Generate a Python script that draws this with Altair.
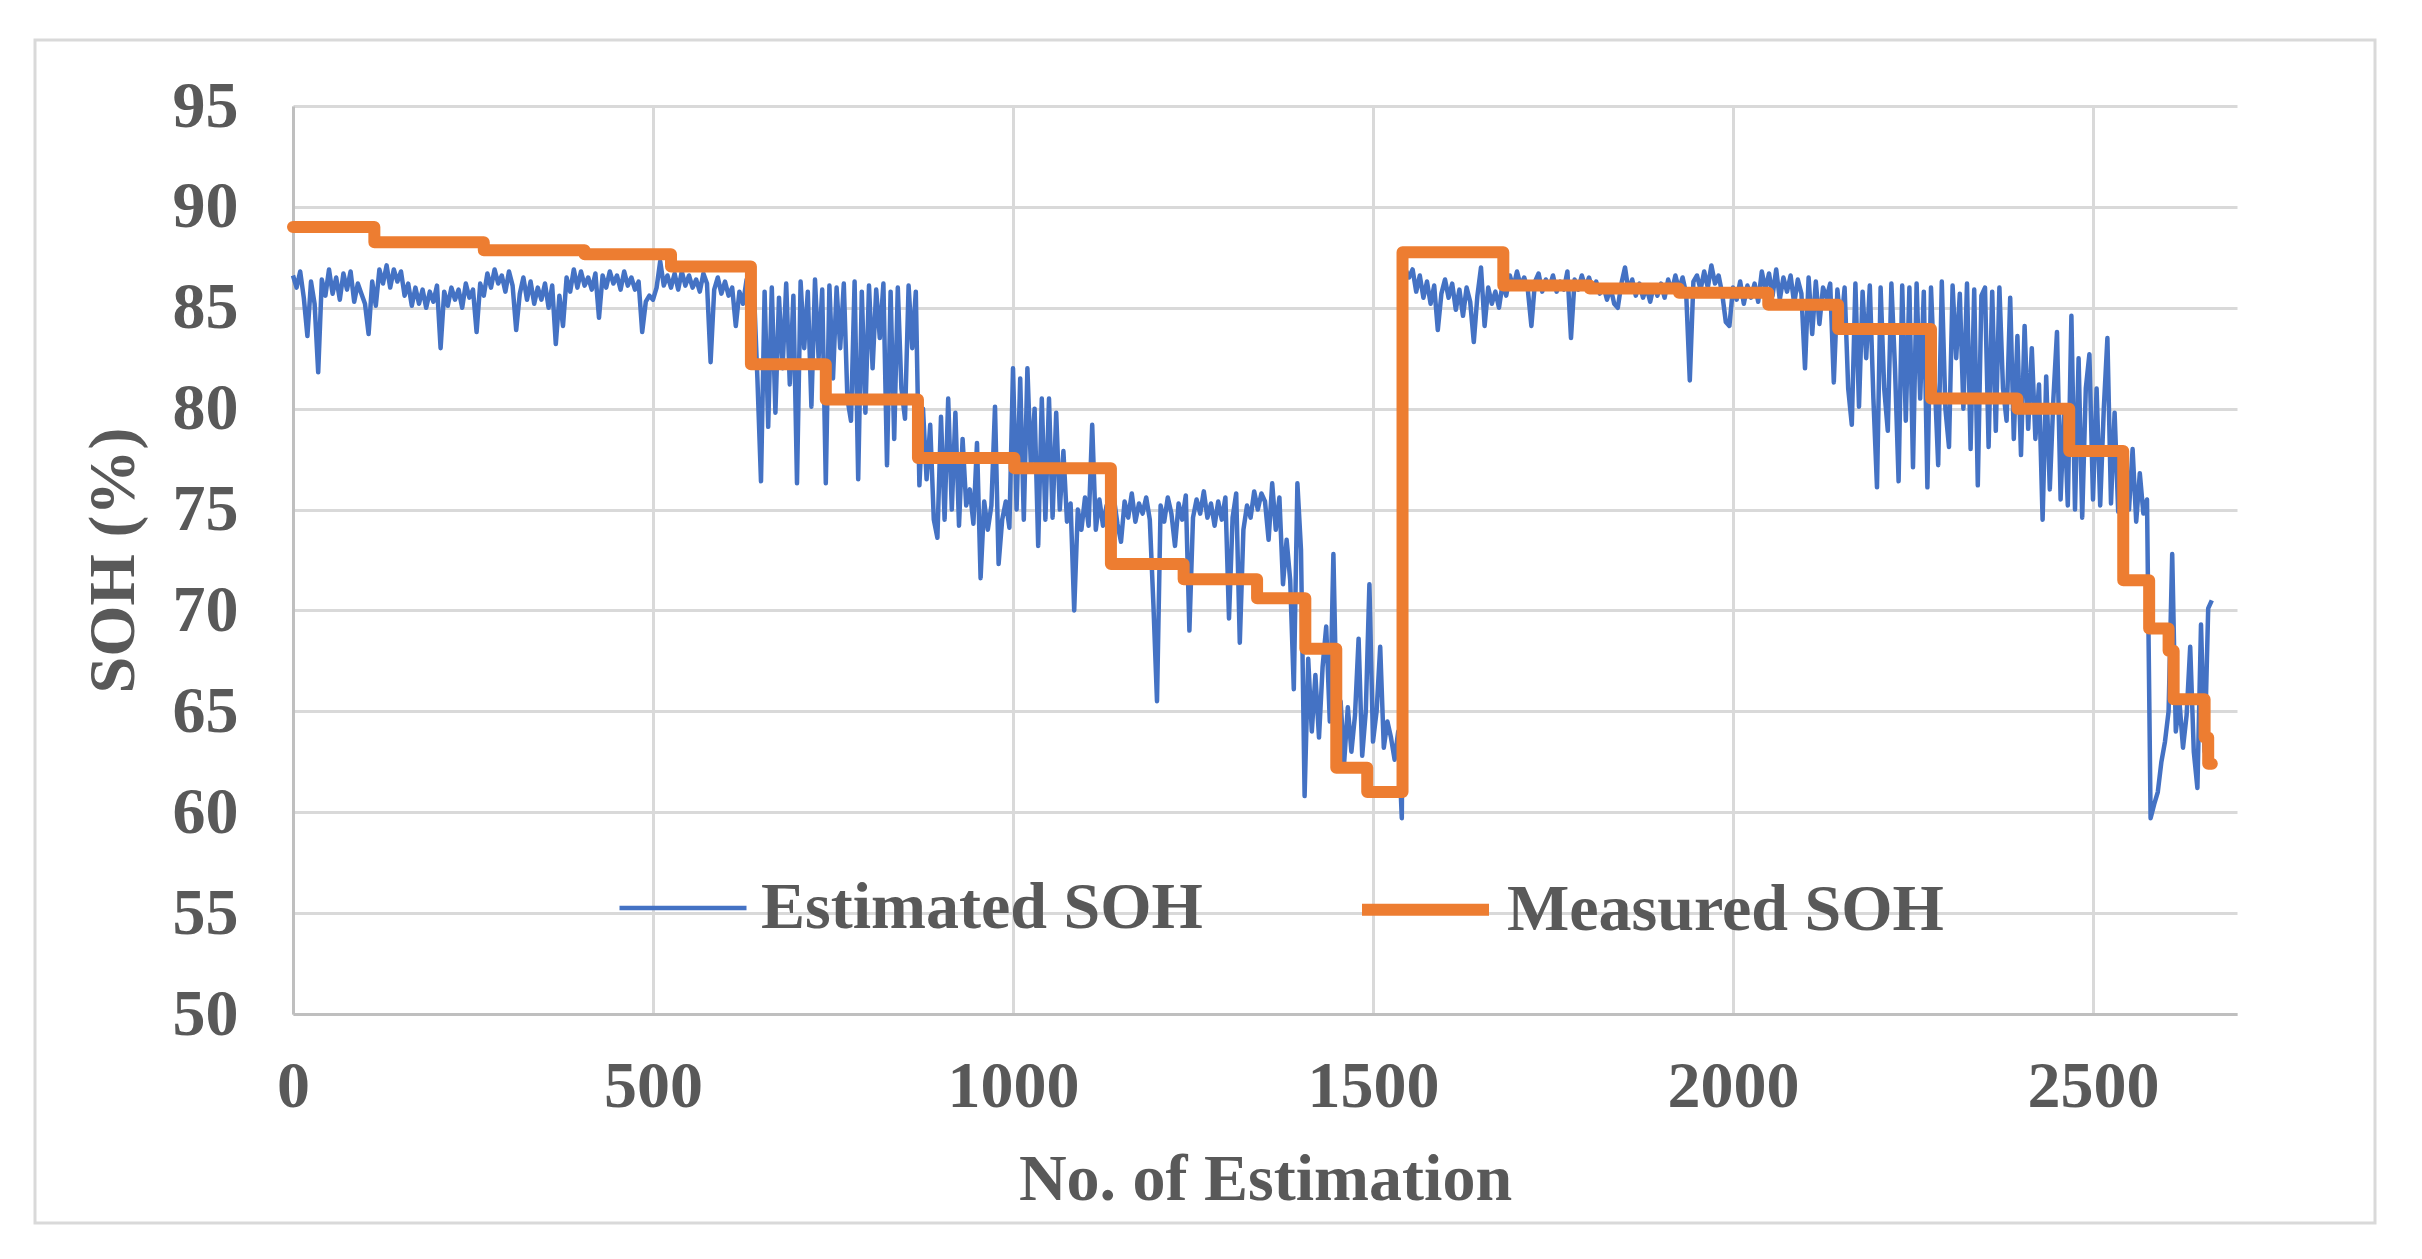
import altair as alt
import pandas as pd

# Estimated SOH, one value every 5 estimations
est_soh = [
    86.6, 86.0, 86.8, 85.5, 83.6, 86.3, 85.2, 81.8, 86.4, 85.6,
    86.9, 85.7, 86.5, 85.4, 86.7, 85.9, 86.8, 85.3, 86.2, 85.7,
    85.2, 83.7, 86.3, 85.1, 86.9, 86.2, 87.1, 86.0, 86.9, 86.3,
    86.8, 85.6, 86.2, 85.1, 86.0, 85.2, 85.9, 85.0, 85.8, 85.3,
    86.1, 83.0, 85.8, 85.1, 86.0, 85.4, 85.9, 85.0, 86.2, 85.5,
    85.9, 83.8, 86.2, 85.6, 86.7, 86.0, 86.9, 86.2, 86.6, 85.8,
    86.8, 86.1, 83.9, 85.7, 86.5, 85.4, 86.3, 85.2, 86.0, 85.4,
    86.2, 85.0, 86.1, 83.2, 85.6, 84.1, 86.5, 85.8, 86.9, 86.0,
    86.8, 86.1, 86.5, 85.9, 86.7, 84.5, 86.6, 86.0, 86.8, 86.2,
    86.6, 85.9, 86.8, 86.1, 86.5, 85.9, 86.3, 83.8, 85.3, 85.6,
    85.4, 86.0, 87.3, 86.1, 86.6, 86.0, 86.7, 85.9, 86.8, 86.1,
    86.6, 86.0, 86.4, 85.8, 86.7, 86.2, 82.3, 85.9, 86.5, 85.7,
    86.3, 85.6, 86.0, 84.1, 85.8, 85.2, 86.4, 85.4, 86.0, 81.5,
    76.4, 85.8, 79.1, 86.0, 79.8, 85.5, 82.0, 86.2, 81.2, 85.6,
    76.3, 86.3, 83.0, 85.8, 80.1, 86.4, 82.5, 85.9, 76.3, 86.1,
    81.5, 86.0, 83.0, 86.2, 80.5, 79.4, 86.3, 76.5, 85.8, 79.8,
    86.1, 82.0, 85.9, 83.5, 86.2, 77.2, 85.8, 78.5, 86.0, 81.0,
    79.5, 86.1, 83.0, 85.8, 76.2, 80.0, 76.5, 79.2, 74.5, 73.6,
    79.6, 74.5, 80.5, 75.0, 79.8, 74.2, 78.5, 75.2, 76.0, 74.3,
    78.3, 71.6, 75.4, 74.0, 75.2, 80.1, 72.3, 74.5, 75.4, 74.1,
    82.0, 75.0, 81.5, 74.5, 82.0, 77.0, 80.0, 73.2, 80.5, 74.5,
    80.5, 74.6, 79.8, 75.0, 77.9, 74.4, 75.3, 70.0, 75.0, 74.0,
    75.6, 74.2, 79.2, 74.0, 75.5, 74.2, 75.2, 74.0, 75.6, 74.3,
    73.4, 75.4, 74.6, 75.8, 74.4, 75.3, 74.8, 75.6, 74.5, 70.3,
    65.5, 75.2, 74.4, 75.6, 74.8, 73.2, 75.3, 74.5, 75.7, 69.0,
    74.6, 75.5, 74.8, 75.9, 74.6, 75.3, 74.2, 75.4, 74.5, 75.6,
    69.6, 74.6, 75.8, 68.4, 74.0, 75.2, 74.6, 75.9, 75.0, 75.8,
    75.4, 73.5, 76.3, 74.0, 75.6, 71.3, 73.5, 71.5, 66.1, 76.3,
    73.0, 60.8, 67.6, 64.0, 66.8, 63.7, 67.2, 69.2, 64.5, 72.8,
    64.0, 65.5, 62.5, 65.2, 63.0, 64.8, 68.6, 62.8, 65.0, 71.3,
    63.5, 65.0, 68.2, 63.2, 64.5, 63.7, 62.6, 64.0, 59.7, 86.9,
    86.5, 86.9, 85.8, 86.6, 85.5, 86.3, 85.2, 86.1, 83.9, 85.7,
    86.4, 85.5, 86.2, 84.9, 85.9, 84.6, 86.0, 85.3, 83.3, 85.6,
    87.0, 84.1, 86.0, 85.2, 85.8, 85.0, 86.2, 85.6, 86.6, 86.0,
    86.8, 86.1, 86.5, 85.9, 84.1, 86.3, 86.7, 85.8, 86.4, 86.0,
    86.6, 85.8, 86.3, 85.9, 86.8, 83.5, 86.4, 85.9, 86.6, 86.0,
    86.5, 85.9, 86.3, 85.7, 86.1, 85.4, 86.0, 85.2, 85.0, 86.2,
    87.0, 85.8, 86.4, 85.6, 86.2, 85.5, 86.0, 85.3, 86.1, 85.6,
    86.2, 85.5, 86.4, 85.8, 86.6, 85.9, 86.5, 85.7, 81.4, 86.3,
    86.6, 85.9, 86.8, 86.0, 87.1, 86.2, 86.6, 85.7, 84.3, 84.1,
    86.0, 85.4, 86.3, 85.2, 86.1, 85.5, 86.2, 85.3, 86.8, 85.9,
    86.7, 85.6, 86.9, 85.4, 86.5, 85.8, 86.6, 85.2, 86.4, 85.7,
    82.0, 86.5, 83.7, 86.3, 84.2, 86.0, 85.5, 86.2, 81.3, 85.9,
    84.0, 86.0, 81.0, 79.2, 86.2, 80.1, 85.8, 82.5, 86.1, 80.5,
    76.1, 86.0, 81.0, 78.9, 86.2, 82.0, 76.4, 86.1, 79.4, 86.0,
    77.1, 86.2, 80.5, 85.8, 76.1, 86.0, 81.5, 77.2, 86.3, 80.0,
    78.1, 86.1, 82.5, 85.7, 80.0, 86.2, 78.0, 85.9, 76.2, 85.6,
    86.0, 78.1, 85.8, 78.9, 86.0, 81.0, 79.4, 85.5, 78.5, 83.6,
    77.7, 84.1, 79.0, 83.0, 78.5, 81.2, 74.5, 81.6, 76.0, 80.5,
    83.8, 75.5, 80.0, 75.2, 84.6, 75.0, 82.5, 74.6, 81.0, 82.7,
    75.5, 81.0, 75.2, 80.0, 83.5, 75.3, 79.8, 74.9, 78.0, 76.0,
    75.0, 78.0, 74.4, 76.8, 74.8, 75.5, 59.7, 60.4, 61.0, 62.5,
    63.5, 65.0, 72.8, 64.0, 65.5, 63.2, 64.8, 68.2, 63.0, 61.2,
    69.3, 63.0, 70.1, 70.5,
]
est_x = [i * 5 for i in range(len(est_soh))]

# Measured SOH steps (start of each step)
meas_x = [0, 113, 265, 405, 525, 636, 740, 868, 1002, 1136, 1237, 1339,
          1406, 1449, 1492, 1541, 1681, 1801, 1925, 2049, 2146, 2275,
          2395, 2467, 2542, 2578, 2605, 2612, 2655, 2660, 2665]
meas_soh = [89.0, 88.25, 87.85, 87.65, 87.05, 82.2, 80.45, 77.55, 77.05,
            72.3, 71.55, 70.6, 68.1, 62.2, 61.0, 87.75, 86.1, 85.95, 85.75,
            85.15, 83.95, 80.5, 80.0, 77.9, 71.5, 69.1, 68.0, 65.6, 63.7,
            62.4, 62.4]

series_names = ['Estimated SOH', 'Measured SOH']
series_colors = ['#4472C4', '#ED7D31']
series_widths = [4.5, 12]
x_ticks = [0, 500, 1000, 1500, 2000, 2500]
y_ticks = [50, 55, 60, 65, 70, 75, 80, 85, 90, 95]

est_df = pd.DataFrame({'n': est_x, 'soh': est_soh, 'series': series_names[0]})
meas_df = pd.DataFrame({'n': meas_x, 'soh': meas_soh, 'series': series_names[1]})

FONT = 'Liberation Serif'
TEXT = '#595959'

x_enc = alt.X('n:Q', title='No. of Estimation',
              scale=alt.Scale(domain=[0, 2700], nice=False),
              axis=alt.Axis(values=x_ticks, format='d', labelFlush=False,
                            labelPadding=40, titlePadding=28))
y_enc = alt.Y('soh:Q', title='SOH (%)',
              scale=alt.Scale(domain=[50, 95], nice=False),
              axis=alt.Axis(values=y_ticks, labelPadding=55, titlePadding=25))
color_enc = alt.Color('series:N', title=None,
                      scale=alt.Scale(domain=series_names, range=series_colors))
width_enc = alt.StrokeWidth('series:N', title=None,
                            scale=alt.Scale(domain=series_names, range=series_widths))

# outer chart-area border
frame = (
    alt.Chart(alt.Data(values=[{}]))
    .mark_rect(filled=False, stroke='#d9d9d9', strokeWidth=3)
    .encode(x=alt.value(-258), x2=alt.value(2082), y=alt.value(-66), y2=alt.value(1117))
)

estimated = (
    alt.Chart(est_df)
    .mark_line(strokeJoin='round')
    .encode(x=x_enc, y=y_enc, color=color_enc, strokeWidth=width_enc)
)

measured = (
    alt.Chart(meas_df)
    .mark_line(interpolate='step-after', strokeJoin='round', strokeCap='round')
    .encode(x=x_enc, y=y_enc, color=color_enc, strokeWidth=width_enc)
)

chart = (
    alt.layer(frame, estimated, measured)
    .properties(
        width=1944, height=908,
        padding={'left': 285, 'top': 98, 'right': 150, 'bottom': 230},
        autosize=alt.AutoSizeParams(type='none'),
    )
    .configure_view(strokeWidth=0)
    .configure_axis(
        labelFont=FONT, labelFontSize=66, labelFontWeight='bold', labelColor=TEXT,
        titleFont=FONT, titleFontSize=66, titleFontWeight='bold', titleColor=TEXT,
        gridColor='#d9d9d9', gridWidth=3, domainColor='#bfbfbf', domainWidth=3,
        ticks=False,
    )
    .configure_legend(
        orient='none', legendX=324, legendY=734, direction='horizontal',
        symbolType='stroke', symbolSize=16129, labelFont=FONT, labelFontSize=66,
        labelFontWeight='bold', labelColor=TEXT, labelOffset=12, columnPadding=135,
        labelLimit=0, padding=0,
    )
)

chart.save('out.html', embed_options={'renderer': 'svg', 'actions': False})
